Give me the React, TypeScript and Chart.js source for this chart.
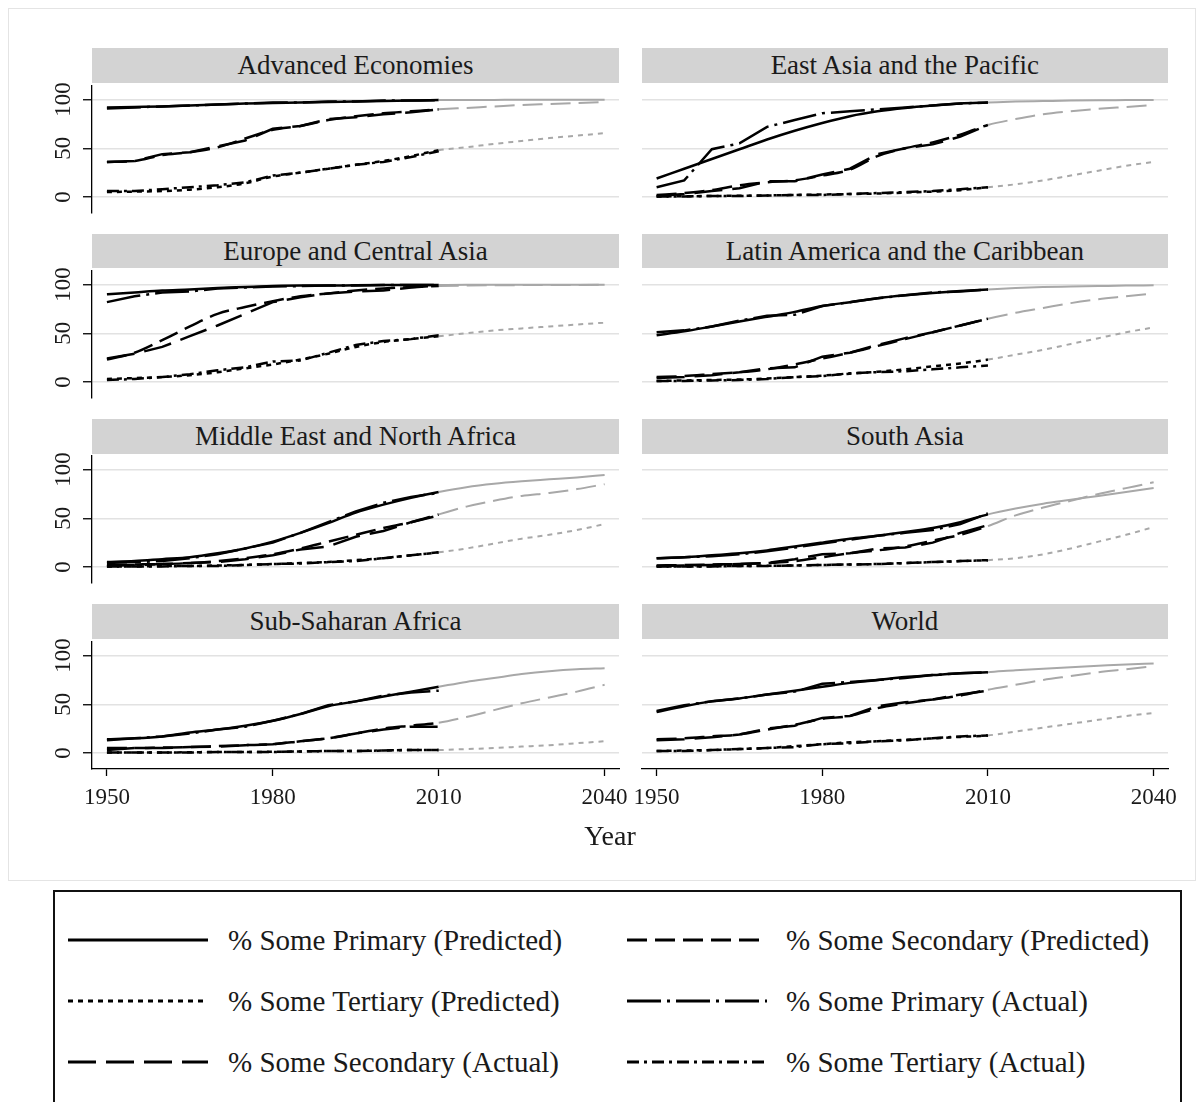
import React, { useEffect, useRef } from 'react';
import { Chart, registerables } from 'chart.js';

Chart.register(...registerables);

// ---- data -------------------------------------------------------------
const years = [1950, 1955, 1960, 1965, 1970, 1975, 1980, 1985, 1990, 1995, 2000, 2005, 2010, 2015, 2020, 2025, 2030, 2035, 2040];
const actualYears = [1950, 1955, 1960, 1965, 1970, 1975, 1980, 1985, 1990, 1995, 2000, 2005, 2010];
const forecastStart = 2010;
const xTicks = [1950, 1980, 2010, 2040];
const yTicks = [0, 50, 100];

const regionNames = [
  'Advanced Economies',
  'East Asia and the Pacific',
  'Europe and Central Asia',
  'Latin America and the Caribbean',
  'Middle East and North Africa',
  'South Asia',
  'Sub-Saharan Africa',
  'World',
];

const seriesLabels = [
  '% Some Primary (Predicted)',
  '% Some Secondary (Predicted)',
  '% Some Tertiary (Predicted)',
  '% Some Primary (Actual)',
  '% Some Secondary (Actual)',
  '% Some Tertiary (Actual)',
];

// Advanced Economies
const advPrimPred = [92, 92.5, 93, 94, 95, 96, 96.5, 97, 97.5, 98, 98.5, 99, 99.5, 99.6, 99.7, 99.8, 99.8, 99.9, 99.9];
const advSecPred = [36, 37, 43, 46, 51, 60, 69, 73, 79, 83, 86, 88, 90, 91.5, 93, 94.5, 95.5, 96.5, 97.5];
const advTertPred = [5, 5.5, 6, 7.5, 10, 14, 21, 25, 29, 33, 37, 42, 48, 51, 54.5, 57.5, 60.5, 63, 65.5];
const advPrimAct = [91, 92, 93, 94, 95, 96, 97, 97, 98, 98, 99, 99, 99.5];
const advSecAct = [36, 37, 44, 46, 52, 58, 70, 73, 80, 82, 85, 87, 90];
const advTertAct = [6, 6, 8, 10, 12, 15, 22, 25, 29, 33, 36, 41, 47];

// East Asia and the Pacific
const eapPrimPred = [19, 29, 39, 49, 59, 68, 76, 83, 88, 91.5, 94, 96, 97, 98, 98.5, 99, 99.3, 99.5, 99.7];
const eapSecPred = [2, 4, 7, 12, 15, 17, 22, 28, 42, 50, 56, 64, 74, 80, 85, 88, 90.5, 92.5, 94.5];
const eapTertPred = [0.5, 0.7, 1, 1.2, 1.5, 2, 2.5, 3, 3.5, 4.5, 5.5, 7, 10, 13, 17, 22, 27, 32, 36];
const eapPrimAct = [10, 17, 49, 55, 72, 79, 86, 88, 90, 92, 94, 96, 97];
const eapSecAct = [1, 3, 6, 9, 16, 16, 23, 29, 44, 50, 54, 62, 74];
const eapTertAct = [0.5, 0.5, 1, 1, 1.5, 2, 2, 3, 4, 5, 6, 8, 10];

// Europe and Central Asia
const ecaPrimPred = [90, 92, 94, 95, 96.5, 97.5, 98.5, 99, 99, 99.3, 99.5, 99.6, 99.7, 99.8, 99.8, 99.9, 99.9, 99.9, 99.9];
const ecaSecPred = [23, 30, 43, 57, 70, 77, 83, 88, 91, 94, 96, 97.5, 98.5, 99, 99.3, 99.5, 99.6, 99.7, 99.8];
const ecaTertPred = [3, 4, 5, 7, 10, 14, 18, 23, 29, 36, 41, 44, 47, 50, 53, 55, 57, 59, 61];
const ecaPrimAct = [82, 88, 92, 93, 96, 97, 98, 98.5, 99, 99, 99.5, 99.5, 99.5];
const ecaSecAct = [24, 29, 36, 47, 58, 70, 82, 87, 91, 93, 94, 97, 99];
const ecaTertAct = [2, 3, 5, 8, 12, 15, 21, 22, 30, 38, 42, 44, 48];

// Latin America and the Caribbean
const lacPrimPred = [48, 52, 57, 62, 67, 72, 78, 82, 86, 89, 91.5, 93.5, 95, 96.5, 97.5, 98, 98.5, 99, 99.3];
const lacSecPred = [5, 6, 8, 10, 13, 18, 24, 30, 37, 44, 51, 58, 65, 71, 76, 81, 85, 88, 91];
const lacTertPred = [1, 1.5, 2, 2.5, 3.5, 5, 6.5, 8.5, 10.5, 13, 16, 19, 23, 28, 33, 39, 45, 51, 56];
const lacPrimAct = [51, 53, 57, 63, 68, 69, 78, 82, 86, 89, 92, 93, 95];
const lacSecAct = [4, 5, 7, 10, 14, 15, 26, 30, 38, 45, 51, 58, 65];
const lacTertAct = [1, 1, 1.5, 2, 3, 5, 6, 9, 10, 11, 13, 15, 17];

// Middle East and North Africa
const menaPrimPred = [5, 6, 8, 10, 14, 19, 26, 35, 45, 56, 64, 71, 77, 82, 85.5, 88, 90, 92, 94.5];
const menaSecPred = [2, 2.5, 3, 4, 6, 9, 13, 19, 26, 33, 40, 46, 54, 62, 68, 73, 76, 80, 85];
const menaTertPred = [0.5, 0.5, 1, 1, 1.5, 2, 3, 4, 5, 7, 9, 12, 15, 19, 24, 29, 33, 38, 44];
const menaPrimAct = [4, 5, 6, 9, 13, 19, 25, 35, 46, 57, 66, 72, 76];
const menaSecAct = [1, 2, 3, 4, 5, 8, 12, 18, 21, 31, 37, 46, 53];
const menaTertAct = [0.5, 0.5, 0.5, 1, 1, 2, 3, 3.5, 5, 6, 9, 12, 15];

// South Asia
const saPrimPred = [9, 10, 12, 14, 17, 21, 25, 29, 32, 36, 40, 46, 54, 60, 65, 69, 73, 77, 81];
const saSecPred = [1.5, 2, 2.5, 3, 4, 6, 10, 14, 17, 21, 27, 33, 42, 53, 61, 68, 75, 81, 87];
const saTertPred = [0.5, 0.5, 0.7, 1, 1.2, 1.5, 2, 2.5, 3, 4, 5, 6, 7, 9, 13, 19, 26, 33, 41];
const saPrimAct = [9, 10, 11, 13, 16, 20, 24, 28, 32, 35, 38, 44, 55];
const saSecAct = [1, 1.5, 2, 3, 4, 8, 13, 14, 19, 20, 25, 35, 43];
const saTertAct = [0.5, 0.5, 0.5, 1, 1, 1.5, 2, 2.5, 3, 4, 5, 6, 7];

// Sub-Saharan Africa
const ssaPrimPred = [14, 15, 17, 21, 24, 28, 33, 40, 48, 53, 58, 63, 68, 73, 77, 81, 84, 86, 87];
const ssaSecPred = [5, 5, 5.5, 6, 7, 8, 9, 12, 15, 20, 25, 28, 31, 37, 44, 51, 57, 63, 70];
const ssaTertPred = [0.5, 0.5, 0.5, 0.7, 1, 1, 1.2, 1.5, 2, 2, 2.5, 3, 3, 4, 5, 6.5, 8, 10, 12];
const ssaPrimAct = [13, 15, 17, 20, 24, 27, 33, 40, 49, 53, 59, 62, 64];
const ssaSecAct = [3, 5, 5, 6, 6.5, 8, 9, 12, 15, 20, 24, 27, 27];
const ssaTertAct = [0.5, 0.5, 0.5, 0.5, 1, 1, 1, 1.5, 2, 2, 2.5, 3, 3];

// World
const wldPrimPred = [42, 48, 53, 56, 60, 64, 68, 72, 75, 78, 80, 82, 83, 85, 86.5, 88, 89.5, 91, 92];
const wldSecPred = [14, 15, 17, 19, 24, 29, 35, 38, 46, 51, 55, 59, 65, 70, 75, 79, 83, 86, 89];
const wldTertPred = [2, 2.5, 3, 4, 5, 7, 9, 11, 12, 13.5, 15, 16.5, 18, 22, 26, 30, 34, 38, 41];
const wldPrimAct = [43, 49, 53, 56, 60, 63, 71, 73, 75, 77, 80, 82, 83];
const wldSecAct = [13, 14, 16, 19, 25, 28, 36, 38, 48, 52, 55, 60, 64];
const wldTertAct = [2, 2, 3, 4, 5, 6, 9, 10, 12, 13, 15, 17, 18];

const regionSeries = [
  [advPrimPred, advSecPred, advTertPred, advPrimAct, advSecAct, advTertAct],
  [eapPrimPred, eapSecPred, eapTertPred, eapPrimAct, eapSecAct, eapTertAct],
  [ecaPrimPred, ecaSecPred, ecaTertPred, ecaPrimAct, ecaSecAct, ecaTertAct],
  [lacPrimPred, lacSecPred, lacTertPred, lacPrimAct, lacSecAct, lacTertAct],
  [menaPrimPred, menaSecPred, menaTertPred, menaPrimAct, menaSecAct, menaTertAct],
  [saPrimPred, saSecPred, saTertPred, saPrimAct, saSecAct, saTertAct],
  [ssaPrimPred, ssaSecPred, ssaTertPred, ssaPrimAct, ssaSecAct, ssaTertAct],
  [wldPrimPred, wldSecPred, wldTertPred, wldPrimAct, wldSecAct, wldTertAct],
];

// ---- styling ----------------------------------------------------------
const FONT = "'Liberation Serif', 'Times New Roman', serif";
const INK = '#1a1a1a';
const BLACK = '#000000';
const GRAY = '#a8a8a8';
const GRID = '#e2e2e2';
const STRIP = '#d3d3d3';
const seriesDashes = [[], [20, 8], [5, 5], [34, 6, 3, 6], [28, 10], [12, 5, 3, 5]];

// panel geometry (page pixels)
const colLeft = [92, 641.7];
const colWidth = [527, 526.3];
const rowPitch = 185.3;
const plotTop0 = 85.7;
const plotHeight = 127.3;
const stripTop0 = 48.4;
const stripHeight = 34.5;
const pad = 20;

function Panel({ index }: { index: number }) {
  const ref = useRef<HTMLCanvasElement>(null);
  const row = Math.floor(index / 2);
  const col = index % 2;
  const isLeft = col === 0;
  const isBottom = row === 3;

  const plotTop = plotTop0 + rowPitch * row;
  const canvasLeft = isLeft ? 30 : 610;
  const canvasWidth = isLeft ? 620 : 590;
  const yAxisWidth = isLeft ? 62 : 0;
  const padLeft = isLeft ? 0 : colLeft[1] - canvasLeft;
  const padRight = canvasWidth - (colLeft[col] - canvasLeft) - colWidth[col];
  const xAxisHeight = isBottom ? 60 : 0;
  const canvasTop = plotTop - pad;
  const canvasHeight = isBottom ? plotHeight + pad + xAxisHeight : plotHeight + 2 * pad;

  useEffect(() => {
    const series = regionSeries[index];
    const datasets = series.map((values, s) => {
      const predicted = s < 3;
      const xs = predicted ? years : actualYears;
      const base: any = {
        label: seriesLabels[s],
        data: xs.map((yr, i) => ({ x: yr, y: values[i] })),
        borderColor: BLACK,
        borderWidth: 2.5,
        borderDash: seriesDashes[s],
        pointRadius: 0,
        fill: false,
      };
      if (predicted) {
        base.cubicInterpolationMode = 'monotone';
        base.segment = {
          borderColor: (ctx: any) => (ctx.p0.parsed.x >= forecastStart ? GRAY : BLACK),
          borderWidth: (ctx: any) => (ctx.p0.parsed.x >= forecastStart ? 2 : 2.5),
        };
      } else {
        base.tension = 0;
      }
      return base;
    });

    const chart = new Chart(ref.current as HTMLCanvasElement, {
      type: 'line',
      data: { datasets },
      options: {
        responsive: false,
        maintainAspectRatio: false,
        animation: false,
        events: [],
        layout: {
          padding: {
            left: padLeft,
            right: padRight,
            top: pad,
            bottom: isBottom ? 0 : pad,
          },
        },
        plugins: {
          legend: { display: false },
          tooltip: { enabled: false },
        },
        scales: {
          x: {
            type: 'linear',
            min: 1947.3,
            max: 2042.6,
            display: isBottom,
            afterBuildTicks: (s: any) => {
              s.ticks = xTicks.map((v) => ({ value: v }));
            },
            afterFit: (s: any) => {
              s.height = xAxisHeight;
            },
            ticks: {
              autoSkip: false,
              maxRotation: 0,
              padding: 8,
              color: INK,
              font: { family: FONT, size: 23 },
              callback: (v: any) => String(v),
            },
            grid: {
              drawOnChartArea: false,
              drawTicks: true,
              tickLength: 7,
              tickColor: BLACK,
              tickWidth: 1.3,
            },
            border: { display: true, color: BLACK, width: 1.3 },
          },
          y: {
            type: 'linear',
            min: -16.5,
            max: 114,
            afterBuildTicks: (s: any) => {
              s.ticks = yTicks.map((v) => ({ value: v }));
            },
            afterFit: (s: any) => {
              s.width = yAxisWidth;
            },
            ticks: {
              display: isLeft,
              minRotation: 90,
              maxRotation: 90,
              crossAlign: 'center',
              padding: 1.5,
              color: INK,
              font: { family: FONT, size: 23 },
              callback: (v: any) => String(v),
            },
            grid: {
              color: GRID,
              lineWidth: 1.5,
              drawTicks: isLeft,
              tickLength: 9,
              tickColor: BLACK,
              tickWidth: 1.3,
            },
            border: { display: isLeft, color: BLACK, width: 1.3 },
          },
        },
      } as any,
    });
    return () => chart.destroy();
  }, [index]);

  return (
    <>
      <div
        style={{
          position: 'absolute',
          left: colLeft[col],
          top: stripTop0 + rowPitch * row,
          width: colWidth[col],
          height: stripHeight,
          background: STRIP,
          color: INK,
          fontFamily: FONT,
          fontSize: 27,
          lineHeight: `${stripHeight}px`,
          textAlign: 'center',
          whiteSpace: 'nowrap',
        }}
      >
        {regionNames[index]}
      </div>
      <canvas
        ref={ref}
        width={canvasWidth}
        height={Math.round(canvasHeight)}
        style={{
          position: 'absolute',
          left: canvasLeft,
          top: canvasTop,
          width: canvasWidth,
          height: Math.round(canvasHeight),
        }}
      />
    </>
  );
}

function LegendSample({ dash }: { dash: number[] }) {
  return (
    <svg width={140} height={8} style={{ display: 'block' }}>
      <line x1={0} y1={4} x2={140} y2={4} stroke={BLACK} strokeWidth={3} strokeDasharray={dash.length ? dash.join(' ') : undefined} />
    </svg>
  );
}

const legendRows = [940, 1001, 1062];
const legendCols = [
  { sample: 68, text: 228 },
  { sample: 627, text: 786 },
];

export default function App() {
  return (
    <div
      style={{
        position: 'fixed',
        left: 0,
        top: 0,
        width: 1203,
        height: 1102,
        overflow: 'hidden',
        background: '#ffffff',
        fontFamily: FONT,
      }}
    >
      <div
        style={{
          position: 'absolute',
          left: 8,
          top: 8,
          width: 1188,
          height: 873,
          boxSizing: 'border-box',
          border: '1px solid #e4e4e4',
        }}
      />
      {regionNames.map((_, i) => (
        <Panel key={i} index={i} />
      ))}
      <div
        style={{
          position: 'absolute',
          left: 560,
          top: 818,
          width: 100,
          lineHeight: '36px',
          textAlign: 'center',
          fontSize: 28,
          color: INK,
        }}
      >
        Year
      </div>
      <div
        style={{
          position: 'absolute',
          left: 53,
          top: 890,
          width: 1129,
          height: 260,
          boxSizing: 'border-box',
          border: '2px solid #111',
        }}
      />
      {seriesLabels.map((label, s) => {
        const r = Math.floor(s / 2);
        const c = s % 2;
        const cy = legendRows[r];
        return (
          <React.Fragment key={label}>
            <div style={{ position: 'absolute', left: legendCols[c].sample, top: cy - 4 }}>
              <LegendSample dash={seriesDashes[s]} />
            </div>
            <div
              style={{
                position: 'absolute',
                left: legendCols[c].text,
                top: cy - 20,
                lineHeight: '40px',
                fontSize: 29,
                color: INK,
                whiteSpace: 'nowrap',
              }}
            >
              {label}
            </div>
          </React.Fragment>
        );
      })}
    </div>
  );
}
